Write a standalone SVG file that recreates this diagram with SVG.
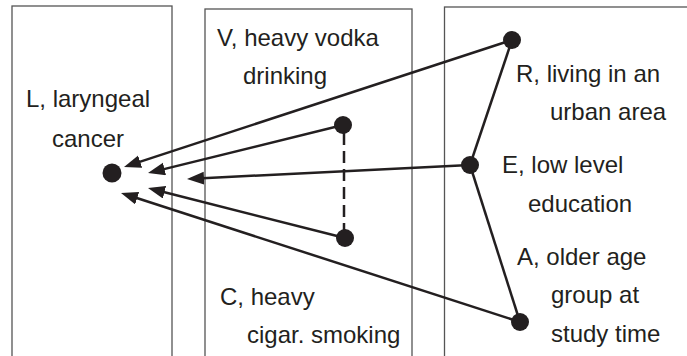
<svg xmlns="http://www.w3.org/2000/svg" width="687" height="356" viewBox="0 0 687 356">
<style>
.box{fill:none;stroke:#555;stroke-width:1.3}
.lbl{font-family:"Liberation Sans",Arial,sans-serif;font-size:24px;fill:#231f20}
.edge{stroke:#231f20;stroke-width:2.5;fill:none}
.node{fill:#231f20}
</style>
<defs>
<marker id="ah" markerUnits="userSpaceOnUse" markerWidth="18" markerHeight="14" refX="11" refY="6.5" orient="auto">
<path d="M0,0 L17,6.5 L0,13 z" fill="#231f20"/>
</marker>
</defs>
<g id="panels">
<rect class="box" x="12" y="6" width="160" height="360"/>
<rect class="box" x="205" y="9" width="207" height="360"/>
<rect class="box" x="444.5" y="7" width="260" height="360"/>
</g>
<g id="connectors">
<line class="edge" x1="512" y1="40" x2="129.7" y2="165.1" marker-end="url(#ah)"/>
<line class="edge" x1="343" y1="125" x2="153.8" y2="171.6" marker-end="url(#ah)"/>
<line class="edge" x1="470" y1="165" x2="193" y2="178.7" marker-end="url(#ah)"/>
<line class="edge" x1="345" y1="238" x2="153.8" y2="189.5" marker-end="url(#ah)"/>
<line class="edge" x1="520" y1="322" x2="126.7" y2="194.8" marker-end="url(#ah)"/>
<line class="edge" x1="512" y1="40" x2="470" y2="165"/>
<line class="edge" x1="470" y1="165" x2="520" y2="322"/>
<line class="edge" x1="344" y1="133" x2="344" y2="230" stroke-dasharray="12 6"/>
</g>
<g id="L">
<circle class="node" cx="112" cy="173" r="9.5"/>
<text class="lbl" x="26" y="107">L, laryngeal</text>
<text class="lbl" x="52" y="147">cancer</text>
</g>
<g id="V">
<circle class="node" cx="343" cy="125" r="9"/>
<text class="lbl" x="217" y="46">V, heavy vodka</text>
<text class="lbl" x="243" y="84">drinking</text>
</g>
<g id="C">
<circle class="node" cx="345" cy="238" r="9"/>
<text class="lbl" x="220" y="305">C, heavy</text>
<text class="lbl" x="247" y="343">cigar. smoking</text>
</g>
<g id="R">
<circle class="node" cx="512" cy="40" r="9"/>
<text class="lbl" x="516" y="82">R, living in an</text>
<text class="lbl" x="550" y="120">urban area</text>
</g>
<g id="E">
<circle class="node" cx="470" cy="165" r="9"/>
<text class="lbl" x="502" y="173">E, low level</text>
<text class="lbl" x="528" y="212">education</text>
</g>
<g id="A">
<circle class="node" cx="520" cy="322" r="9"/>
<text class="lbl" x="517" y="265">A, older age</text>
<text class="lbl" x="551" y="303">group at</text>
<text class="lbl" x="551" y="342">study time</text>
</g>
</svg>
